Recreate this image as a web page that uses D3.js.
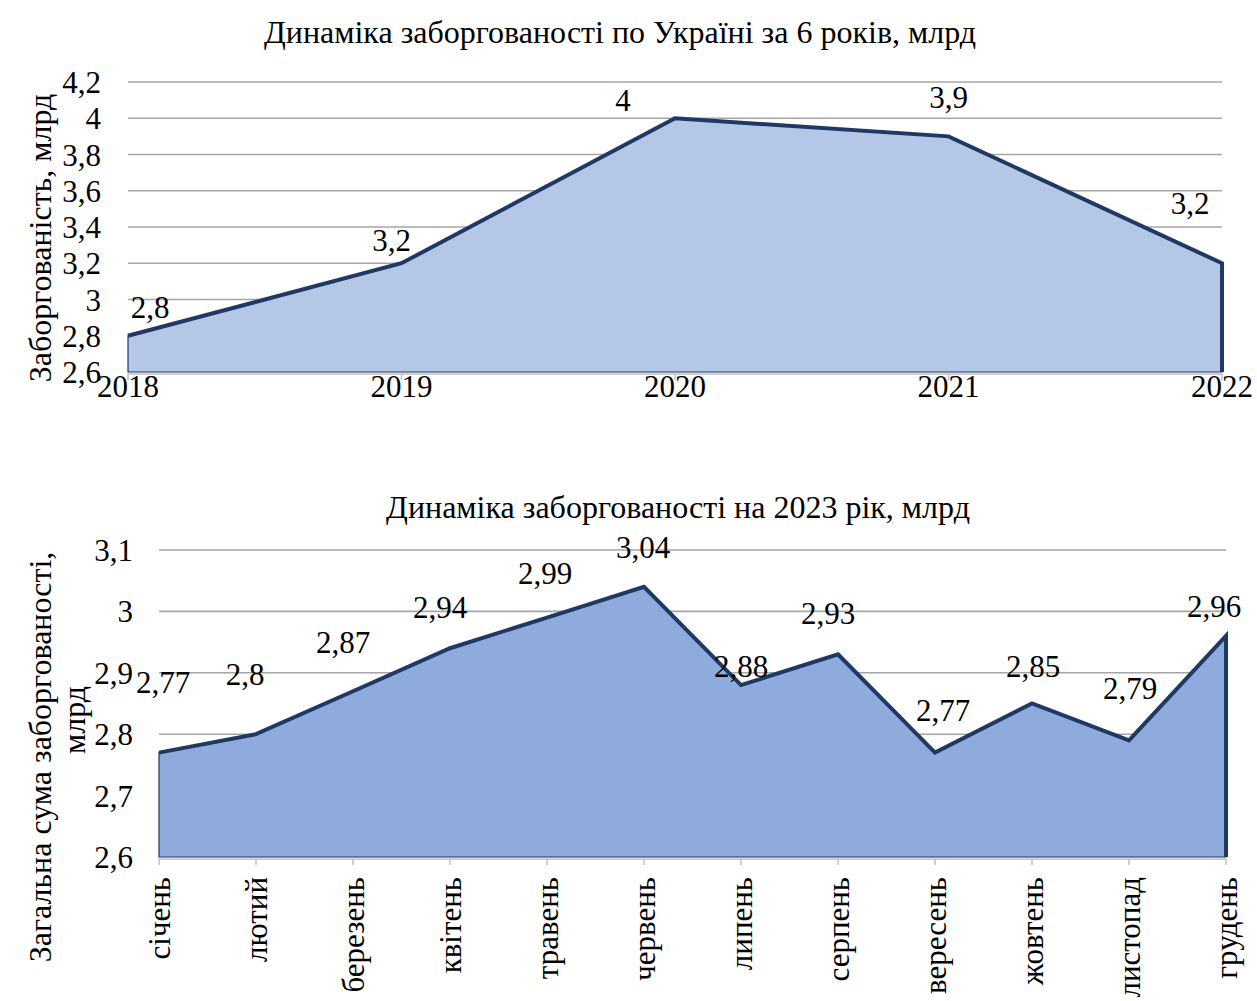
<!DOCTYPE html>
<html>
<head>
<meta charset="utf-8">
<script src="https://cdn.jsdelivr.net/npm/d3@7"></script>
</head>
<body style="margin:0">
<script>
// top chart: by year
var years = ["2018", "2019", "2020", "2021", "2022"];
var yearValues = [2.8, 3.2, 4, 3.9, 3.2];
var yearTicks = [2.6, 2.8, 3, 3.2, 3.4, 3.6, 3.8, 4, 4.2];

// bottom chart: 2023 by month
var months = ["січень", "лютий", "березень", "квітень", "травень", "червень",
  "липень", "серпень", "вересень", "жовтень", "листопад", "грудень"];
var monthValues = [2.77, 2.8, 2.87, 2.94, 2.99, 3.04, 2.88, 2.93, 2.77, 2.85, 2.79, 2.96];
var monthTicks = [2.6, 2.7, 2.8, 2.9, 3, 3.1];

var fmt = function (v) { return String(v).replace(".", ","); };

var svg = d3.select("body").append("svg").attr("width", 1257).attr("height", 1001);

// every text gets the serif family right when it is made
function addText(parent, size) {
  return parent.append("text")
    .attr("font-family", "Liberation Serif")
    .attr("font-size", size);
}

function drawArea(opt) {
  var g = svg.append("g");
  var x = d3.scalePoint().domain(opt.cats).range([opt.left, opt.right]);
  var y = d3.scaleLinear().domain(opt.domain).range([opt.bottom, opt.top]);

  // gridlines
  opt.ticks.slice(1).forEach(function (t) {
    g.append("line")
      .attr("x1", opt.left).attr("x2", opt.right)
      .attr("y1", y(t)).attr("y2", y(t))
      .attr("stroke", "#a6a6a6").attr("stroke-width", 1.6);
  });

  // y tick labels
  opt.ticks.forEach(function (t) {
    addText(g, 31).attr("x", opt.ylabX).attr("y", y(t) + 11)
      .attr("text-anchor", "end").text(fmt(t));
  });

  var pts = opt.vals.map(function (v, i) { return [opt.cats[i], v]; });

  var area = d3.area()
    .x(function (d) { return x(d[0]); })
    .y0(y(opt.domain[0]))
    .y1(function (d) { return y(d[1]); });
  g.append("path").datum(pts)
    .attr("d", area)
    .attr("fill", opt.fill)
    .attr("stroke", "#1f3864")
    .attr("stroke-width", 1.2);

  // axis line + ticks
  g.append("line")
    .attr("x1", opt.left).attr("x2", opt.right)
    .attr("y1", opt.bottom + 2).attr("y2", opt.bottom + 2)
    .attr("stroke", "#bfbfbf").attr("stroke-width", 1.5);
  opt.cats.forEach(function (c) {
    g.append("line")
      .attr("x1", x(c)).attr("x2", x(c))
      .attr("y1", opt.bottom + 2).attr("y2", opt.bottom + 8)
      .attr("stroke", "#bfbfbf").attr("stroke-width", 1.5);
  });

  // outline: top line + right edge
  var line = d3.line()
    .x(function (d) { return x(d[0]); })
    .y(function (d) { return y(d[1]); });
  var outline = pts.concat([[opt.cats[opt.cats.length - 1], opt.domain[0]]]);
  g.append("path").datum(outline)
    .attr("d", line)
    .attr("fill", "none")
    .attr("stroke", "#1f3864")
    .attr("stroke-width", 4);

  // data labels
  pts.forEach(function (d, i) {
    addText(g, 31)
      .attr("x", x(d[0]) + opt.nudge[i][0])
      .attr("y", y(d[1]) + opt.nudge[i][1] + 11)
      .attr("text-anchor", "middle")
      .text(fmt(d[1]));
  });

  return { g: g, x: x, y: y };
}

// ---- top chart ----
var top1 = drawArea({
  cats: years, vals: yearValues, ticks: yearTicks, domain: [2.6, 4.2],
  left: 128, right: 1222, top: 82, bottom: 372, ylabX: 101,
  fill: "#b4c7e7",
  nudge: [[22, -29], [-10, -23], [-52, -18], [0, -39], [-32, -60]]
});

years.forEach(function (yr) {
  addText(top1.g, 31).attr("x", top1.x(yr)).attr("y", 397)
    .attr("text-anchor", "middle").text(yr);
});

addText(svg, 32).attr("x", 620).attr("y", 43)
  .attr("text-anchor", "middle")
  .text("Динаміка заборгованості по Україні за 6 років, млрд");

addText(svg, 32).attr("transform", "translate(51,238) rotate(-90)")
  .attr("text-anchor", "middle")
  .text("Заборгованість, млрд");

// ---- bottom chart ----
var bot = drawArea({
  cats: months, vals: monthValues, ticks: monthTicks, domain: [2.6, 3.1],
  left: 159, right: 1226, top: 550, bottom: 857, ylabX: 133,
  fill: "#8faadc",
  nudge: [[4, -71], [-11, -60], [-10, -49], [-10, -41], [-2, -45], [-1, -40],
    [0, -19], [-10, -41], [8, -43], [1, -38], [1, -52], [-12, -30]]
});

months.forEach(function (m) {
  addText(bot.g, 31)
    .attr("transform", "translate(" + (bot.x(m) + 11) + ",877) rotate(-90)")
    .attr("text-anchor", "end")
    .text(m);
});

addText(svg, 32).attr("x", 678).attr("y", 518)
  .attr("text-anchor", "middle")
  .text("Динаміка заборгованості на 2023 рік, млрд");

addText(svg, 32).attr("transform", "translate(51,757) rotate(-90)")
  .attr("text-anchor", "middle")
  .text("Загальна сума заборгованості,");

addText(svg, 32).attr("transform", "translate(85,720) rotate(-90)")
  .attr("text-anchor", "middle")
  .text("млрд");
</script>
</body>
</html>
